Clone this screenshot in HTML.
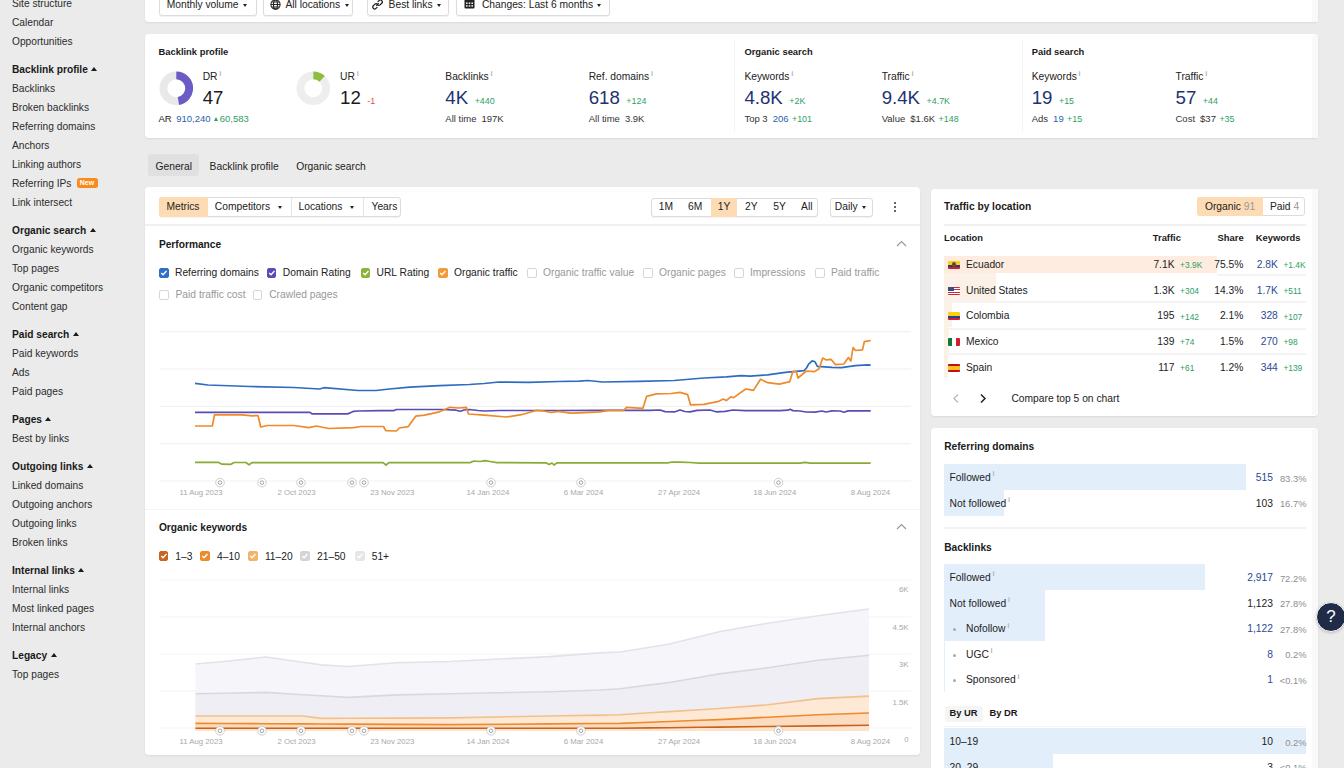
<!DOCTYPE html>
<html><head><meta charset="utf-8"><title>Overview</title><style>
*{box-sizing:border-box;margin:0;padding:0}
html,body{width:1344px;height:768px;overflow:hidden}
body{background:#ebebeb;font-family:"Liberation Sans",Arial,Helvetica,sans-serif;color:#222;position:relative;-webkit-font-smoothing:antialiased}
.t{position:absolute;white-space:nowrap}
.r{position:absolute}
.tri{display:inline-block;width:0;height:0;border-left:3px solid transparent;border-right:3px solid transparent;border-bottom:4px solid #1a1a1a;margin-left:3.4px;vertical-align:1.8px}
.caret{position:absolute;width:0;height:0;border-left:2.7px solid transparent;border-right:2.7px solid transparent;border-top:3.3px solid #222}
.newb{position:absolute;width:21px;height:10.5px;background:#f98b1c;border-radius:2.5px;color:#fff;font-size:7px;line-height:10.5px;text-align:center;font-weight:700}
.sup{font-size:7.5px;color:#b4b4b4;position:relative;top:-4.5px;margin-left:1.8px;font-weight:700;line-height:0}
.dl{font-size:8.9px;margin-left:6.5px;vertical-align:0}
.sv{margin-left:2.4px}
.sd{font-size:8.9px;margin-left:0.8px}
.up{display:inline-block;width:0;height:0;border-left:2.8px solid transparent;border-right:2.8px solid transparent;border-bottom:4px solid #2f9e62;margin-right:1.5px;vertical-align:1px}
.info{position:absolute}
.cb{position:absolute;border:1px solid #d6d6d6;border-radius:2px;background:#fff}
.flag{position:absolute;width:12px;height:8px;border-radius:1px;overflow:hidden}
.fl-ec{background:linear-gradient(#f7d117 0 50%,#243c8c 50% 75%,#d0202c 75%)}
.fl-ec:before{content:"";position:absolute;left:4px;top:1.5px;width:4px;height:4.5px;border-radius:50% 50% 40% 40%;background:#6b4a2a}
.fl-us{background:repeating-linear-gradient(#c8283a 0 1.15px,#fff 1.15px 2.3px)}
.fl-us:before{content:"";position:absolute;left:0;top:0;width:5.5px;height:4.6px;background:#3b4a87}
.fl-co{background:linear-gradient(#f7d117 0 50%,#223e99 50% 75%,#d0202c 75%)}
.fl-mx{background:linear-gradient(90deg,#0b7a3e 0 33%,#fff 33% 67%,#cd1f2d 67%)}
.fl-es{background:linear-gradient(#c60b1e 0 25%,#f6c41b 25% 75%,#c60b1e 75%)}
.help{position:absolute;left:1316px;top:602px;width:30px;height:30px;border-radius:50%;background:#1f2b47;border:1.5px solid #fff;color:#fff;font-size:17px;line-height:27px;text-align:center;font-weight:400;box-shadow:0 1px 3px rgba(0,0,0,.2)}
</style></head>
<body>
<div class="t " style="top:-1.43px;font-size:10.2px;line-height:10.2px;color:#2b2b2b;left:12.00px;">Site structure</div>
<div class="t " style="top:17.57px;font-size:10.2px;line-height:10.2px;color:#2b2b2b;left:12.00px;">Calendar</div>
<div class="t " style="top:36.57px;font-size:10.2px;line-height:10.2px;color:#2b2b2b;left:12.00px;">Opportunities</div>
<div class="t " style="top:64.57px;font-size:10.2px;line-height:10.2px;color:#1a1a1a;font-weight:700;left:12.00px;">Backlink profile<span class="tri"></span></div>
<div class="t " style="top:83.57px;font-size:10.2px;line-height:10.2px;color:#2b2b2b;left:12.00px;">Backlinks</div>
<div class="t " style="top:102.57px;font-size:10.2px;line-height:10.2px;color:#2b2b2b;left:12.00px;">Broken backlinks</div>
<div class="t " style="top:121.57px;font-size:10.2px;line-height:10.2px;color:#2b2b2b;left:12.00px;">Referring domains</div>
<div class="t " style="top:140.57px;font-size:10.2px;line-height:10.2px;color:#2b2b2b;left:12.00px;">Anchors</div>
<div class="t " style="top:159.57px;font-size:10.2px;line-height:10.2px;color:#2b2b2b;left:12.00px;">Linking authors</div>
<div class="t " style="top:178.57px;font-size:10.2px;line-height:10.2px;color:#2b2b2b;left:12.00px;">Referring IPs</div>
<div class="newb" style="left:76.5px;top:177.9px">New</div>
<div class="t " style="top:197.57px;font-size:10.2px;line-height:10.2px;color:#2b2b2b;left:12.00px;">Link intersect</div>
<div class="t " style="top:225.57px;font-size:10.2px;line-height:10.2px;color:#1a1a1a;font-weight:700;left:12.00px;">Organic search<span class="tri"></span></div>
<div class="t " style="top:244.57px;font-size:10.2px;line-height:10.2px;color:#2b2b2b;left:12.00px;">Organic keywords</div>
<div class="t " style="top:263.57px;font-size:10.2px;line-height:10.2px;color:#2b2b2b;left:12.00px;">Top pages</div>
<div class="t " style="top:282.57px;font-size:10.2px;line-height:10.2px;color:#2b2b2b;left:12.00px;">Organic competitors</div>
<div class="t " style="top:301.57px;font-size:10.2px;line-height:10.2px;color:#2b2b2b;left:12.00px;">Content gap</div>
<div class="t " style="top:329.57px;font-size:10.2px;line-height:10.2px;color:#1a1a1a;font-weight:700;left:12.00px;">Paid search<span class="tri"></span></div>
<div class="t " style="top:348.57px;font-size:10.2px;line-height:10.2px;color:#2b2b2b;left:12.00px;">Paid keywords</div>
<div class="t " style="top:367.57px;font-size:10.2px;line-height:10.2px;color:#2b2b2b;left:12.00px;">Ads</div>
<div class="t " style="top:386.57px;font-size:10.2px;line-height:10.2px;color:#2b2b2b;left:12.00px;">Paid pages</div>
<div class="t " style="top:414.57px;font-size:10.2px;line-height:10.2px;color:#1a1a1a;font-weight:700;left:12.00px;">Pages<span class="tri"></span></div>
<div class="t " style="top:433.57px;font-size:10.2px;line-height:10.2px;color:#2b2b2b;left:12.00px;">Best by links</div>
<div class="t " style="top:461.57px;font-size:10.2px;line-height:10.2px;color:#1a1a1a;font-weight:700;left:12.00px;">Outgoing links<span class="tri"></span></div>
<div class="t " style="top:480.57px;font-size:10.2px;line-height:10.2px;color:#2b2b2b;left:12.00px;">Linked domains</div>
<div class="t " style="top:499.57px;font-size:10.2px;line-height:10.2px;color:#2b2b2b;left:12.00px;">Outgoing anchors</div>
<div class="t " style="top:518.57px;font-size:10.2px;line-height:10.2px;color:#2b2b2b;left:12.00px;">Outgoing links</div>
<div class="t " style="top:537.57px;font-size:10.2px;line-height:10.2px;color:#2b2b2b;left:12.00px;">Broken links</div>
<div class="t " style="top:565.57px;font-size:10.2px;line-height:10.2px;color:#1a1a1a;font-weight:700;left:12.00px;">Internal links<span class="tri"></span></div>
<div class="t " style="top:584.57px;font-size:10.2px;line-height:10.2px;color:#2b2b2b;left:12.00px;">Internal links</div>
<div class="t " style="top:603.57px;font-size:10.2px;line-height:10.2px;color:#2b2b2b;left:12.00px;">Most linked pages</div>
<div class="t " style="top:622.57px;font-size:10.2px;line-height:10.2px;color:#2b2b2b;left:12.00px;">Internal anchors</div>
<div class="t " style="top:650.57px;font-size:10.2px;line-height:10.2px;color:#1a1a1a;font-weight:700;left:12.00px;">Legacy<span class="tri"></span></div>
<div class="t " style="top:669.57px;font-size:10.2px;line-height:10.2px;color:#2b2b2b;left:12.00px;">Top pages</div>
<div class="r" style="left:145px;top:-10px;width:1173px;height:32px;background:#fff;border-radius:0 0 4px 4px;box-shadow:0 1px 2px rgba(0,0,0,.08);"></div>
<div class="r" style="left:158.5px;top:-6px;width:98.0px;height:21.5px;background:#fff;border:1px solid #dcdcdc;border-radius:3px;box-shadow:0 1px 1px rgba(0,0,0,.06);"></div>
<div class="t " style="top:-0.29px;font-size:10.27px;line-height:10.27px;color:#222;left:166.70px;">Monthly volume</div>
<div class="caret" style="left:243px;top:3.5px"></div>
<div class="r" style="left:262.5px;top:-6px;width:90.19999999999999px;height:21.5px;background:#fff;border:1px solid #dcdcdc;border-radius:3px;box-shadow:0 1px 1px rgba(0,0,0,.06);"></div>
<svg class="r" style="left:269.5px;top:-1.5px" width="11" height="11" viewBox="0 0 11 11"><g fill="none" stroke="#222" stroke-width="1.1"><circle cx="5.5" cy="5.5" r="4.6"/><ellipse cx="5.5" cy="5.5" rx="2" ry="4.6"/><path d="M1 5.5h9M1.8 3h7.4M1.8 8h7.4"/></g></svg>
<div class="t " style="top:-0.29px;font-size:10.27px;line-height:10.27px;color:#222;left:285.40px;">All locations</div>
<div class="caret" style="left:344.5px;top:3.5px"></div>
<div class="r" style="left:366.8px;top:-6px;width:82.59999999999997px;height:21.5px;background:#fff;border:1px solid #dcdcdc;border-radius:3px;box-shadow:0 1px 1px rgba(0,0,0,.06);"></div>
<svg class="r" style="left:371.5px;top:-1.5px" width="11" height="11" viewBox="0 0 11 11"><g fill="none" stroke="#222" stroke-width="1.3" stroke-linecap="round"><path d="M4.6 6.4l1.8-1.8"/><path d="M6 2.6l1-1a1.9 1.9 0 0 1 2.7 2.7l-1.6 1.6a1.9 1.9 0 0 1-2.7 0"/><path d="M5 8.4l-1 1a1.9 1.9 0 0 1-2.7-2.7l1.6-1.6a1.9 1.9 0 0 1 2.7 0"/></g></svg>
<div class="t " style="top:-0.29px;font-size:10.27px;line-height:10.27px;color:#222;left:388.60px;">Best links</div>
<div class="caret" style="left:436.5px;top:3.5px"></div>
<div class="r" style="left:455.7px;top:-6px;width:154.3px;height:21.5px;background:#fff;border:1px solid #dcdcdc;border-radius:3px;box-shadow:0 1px 1px rgba(0,0,0,.06);"></div>
<svg class="r" style="left:464px;top:-2px" width="11" height="11" viewBox="0 0 11 11"><rect x="0.5" y="1.5" width="10" height="9" rx="1" fill="#222"/><g fill="#fff"><rect x="2" y="4.5" width="1.6" height="1.4"/><rect x="4.7" y="4.5" width="1.6" height="1.4"/><rect x="7.4" y="4.5" width="1.6" height="1.4"/><rect x="2" y="7.2" width="1.6" height="1.4"/><rect x="4.7" y="7.2" width="1.6" height="1.4"/><rect x="7.4" y="7.2" width="1.6" height="1.4"/></g></svg>
<div class="t " style="top:-0.29px;font-size:10.27px;line-height:10.27px;color:#222;left:481.90px;">Changes: Last 6 months</div>
<div class="caret" style="left:597px;top:3.5px"></div>
<div class="r" style="left:145px;top:34px;width:1173px;height:104px;background:#fff;border-radius:4px;box-shadow:0 1px 2px rgba(0,0,0,.08);"></div>
<div class="r" style="left:734px;top:40px;width:1px;height:92px;background:#f3f3f3;"></div>
<div class="r" style="left:1022px;top:40px;width:1px;height:92px;background:#f3f3f3;"></div>
<div class="t " style="top:47.04px;font-size:9.4px;line-height:9.4px;color:#1a1a1a;font-weight:700;left:158.50px;">Backlink profile</div>
<div class="t " style="top:47.04px;font-size:9.4px;line-height:9.4px;color:#1a1a1a;font-weight:700;left:744.40px;">Organic search</div>
<div class="t " style="top:47.04px;font-size:9.4px;line-height:9.4px;color:#1a1a1a;font-weight:700;left:1031.70px;">Paid search</div>
<svg class="r" style="left:158.5px;top:71.3px" width="34.6" height="34.6" viewBox="0 0 36 36"><circle cx="18" cy="18" r="13.4" fill="none" stroke="#e9e9e9" stroke-width="8.2"/><circle cx="18" cy="18" r="13.4" fill="none" stroke="#6a5cc4" stroke-width="8.2" stroke-dasharray="39.57 84.2" transform="rotate(-90 18 18)"/></svg>
<div class="t " style="top:72.11px;font-size:10.27px;line-height:10.27px;color:#222;left:202.70px;">DR<span class="sup">i</span></div>
<div class="t" style="left:202.7px;top:88.80px;font-size:18.67px;line-height:18.67px;color:#1a1a1a">47<span class="dl" style="color:#2f9e62"></span></div>
<div class="t" style="left:158.4px;top:114.46px;font-size:9.5px;line-height:9.5px;color:#222">AR <span style="color:#2c5fa8;margin-left:2px">910,240</span> <span style="color:#2f9e62;margin-left:1px"><span class="up"></span>60,583</span></div>
<svg class="r" style="left:295.5px;top:71.3px" width="34.6" height="34.6" viewBox="0 0 36 36"><circle cx="18" cy="18" r="13.4" fill="none" stroke="#eeeeee" stroke-width="8.2"/><circle cx="18" cy="18" r="13.4" fill="none" stroke="#8cbf3f" stroke-width="8.2" stroke-dasharray="10.1 84.2" transform="rotate(-90 18 18)"/></svg>
<div class="t " style="top:72.11px;font-size:10.27px;line-height:10.27px;color:#222;left:340.00px;">UR<span class="sup">i</span></div>
<div class="t" style="left:340px;top:88.80px;font-size:18.67px;line-height:18.67px;color:#1a1a1a">12<span class="dl" style="color:#d9534f">-1</span></div>
<div class="t " style="top:72.11px;font-size:10.27px;line-height:10.27px;color:#222;left:445.30px;">Backlinks<span class="sup">i</span></div>
<div class="t" style="left:445.3px;top:88.80px;font-size:18.67px;line-height:18.67px;color:#1d3372">4K<span class="dl" style="color:#2f9e62">+440</span></div>
<div class="t" style="left:445.3px;top:114.46px;font-size:9.5px;line-height:9.5px;color:#333">All time <span class="sv">197K</span></div>
<div class="t " style="top:72.11px;font-size:10.27px;line-height:10.27px;color:#222;left:588.70px;">Ref. domains<span class="sup">i</span></div>
<div class="t" style="left:588.7px;top:88.80px;font-size:18.67px;line-height:18.67px;color:#1d3372">618<span class="dl" style="color:#2f9e62">+124</span></div>
<div class="t" style="left:588.7px;top:114.46px;font-size:9.5px;line-height:9.5px;color:#333">All time <span class="sv">3.9K</span></div>
<div class="t " style="top:72.11px;font-size:10.27px;line-height:10.27px;color:#222;left:744.40px;">Keywords<span class="sup">i</span></div>
<div class="t" style="left:744.4px;top:88.80px;font-size:18.67px;line-height:18.67px;color:#1d3372">4.8K<span class="dl" style="color:#2f9e62">+2K</span></div>
<div class="t" style="left:744.4px;top:114.46px;font-size:9.5px;line-height:9.5px;color:#333">Top 3 <span class="sv" style="color:#2c5fa8">206</span> <span class="sd" style="color:#2f9e62">+101</span></div>
<div class="t " style="top:72.11px;font-size:10.27px;line-height:10.27px;color:#222;left:881.70px;">Traffic<span class="sup">i</span></div>
<div class="t" style="left:881.7px;top:88.80px;font-size:18.67px;line-height:18.67px;color:#1d3372">9.4K<span class="dl" style="color:#2f9e62">+4.7K</span></div>
<div class="t" style="left:881.7px;top:114.46px;font-size:9.5px;line-height:9.5px;color:#333">Value <span class="sv">$1.6K</span> <span class="sd" style="color:#2f9e62">+148</span></div>
<div class="t " style="top:72.11px;font-size:10.27px;line-height:10.27px;color:#222;left:1031.70px;">Keywords<span class="sup">i</span></div>
<div class="t" style="left:1031.7px;top:88.80px;font-size:18.67px;line-height:18.67px;color:#1d3372">19<span class="dl" style="color:#2f9e62">+15</span></div>
<div class="t" style="left:1031.7px;top:114.46px;font-size:9.5px;line-height:9.5px;color:#333">Ads <span class="sv" style="color:#2c5fa8">19</span> <span class="sd" style="color:#2f9e62">+15</span></div>
<div class="t " style="top:72.11px;font-size:10.27px;line-height:10.27px;color:#222;left:1175.50px;">Traffic<span class="sup">i</span></div>
<div class="t" style="left:1175.5px;top:88.80px;font-size:18.67px;line-height:18.67px;color:#1d3372">57<span class="dl" style="color:#2f9e62">+44</span></div>
<div class="t" style="left:1175.5px;top:114.46px;font-size:9.5px;line-height:9.5px;color:#333">Cost <span class="sv">$37</span> <span class="sd" style="color:#2f9e62">+35</span></div>
<div class="r" style="left:147.7px;top:153.8px;width:51.8px;height:22px;background:#e0e0e0;border-radius:3px;"></div>
<div class="t " style="top:161.51px;font-size:10.27px;line-height:10.27px;color:#222;left:155.50px;">General</div>
<div class="t " style="top:161.51px;font-size:10.27px;line-height:10.27px;color:#222;left:209.60px;">Backlink profile</div>
<div class="t " style="top:161.51px;font-size:10.27px;line-height:10.27px;color:#222;left:296.20px;">Organic search</div>
<div class="r" style="left:145px;top:187px;width:775px;height:568px;background:#fff;border-radius:4px;box-shadow:0 1px 2px rgba(0,0,0,.08);"></div>
<div class="r" style="left:159.3px;top:197px;width:242.2px;height:19.5px;background:#fff;border:1px solid #dcdcdc;border-radius:3px;box-shadow:0 1px 1px rgba(0,0,0,.05);"></div>
<div class="r" style="left:159.3px;top:197px;width:48.7px;height:19.5px;background:#fddcb5;border-radius:3px 0 0 3px;"></div>
<div class="r" style="left:290.8px;top:198px;width:1px;height:17.5px;background:#e4e4e4;"></div>
<div class="r" style="left:362.8px;top:198px;width:1px;height:17.5px;background:#e4e4e4;"></div>
<div class="t " style="top:202.01px;font-size:10.27px;line-height:10.27px;color:#222;left:166.40px;">Metrics</div>
<div class="t " style="top:202.01px;font-size:10.27px;line-height:10.27px;color:#222;left:214.80px;">Competitors</div>
<div class="caret" style="left:277.5px;top:205.5px"></div>
<div class="t " style="top:202.01px;font-size:10.27px;line-height:10.27px;color:#222;left:298.50px;">Locations</div>
<div class="caret" style="left:349.5px;top:205.5px"></div>
<div class="t " style="top:202.01px;font-size:10.27px;line-height:10.27px;color:#222;left:371.50px;">Years</div>
<div class="r" style="left:651px;top:197.5px;width:166.7px;height:19px;background:#fff;border:1px solid #dcdcdc;border-radius:3px;box-shadow:0 1px 1px rgba(0,0,0,.05);"></div>
<div class="r" style="left:710.5px;top:197.5px;width:26.5px;height:19px;background:#fddcb5;"></div>
<div class="t " style="top:202.01px;font-size:10.27px;line-height:10.27px;color:#222;left:616.00px;width:100px;text-align:center;">1M</div>
<div class="t " style="top:202.01px;font-size:10.27px;line-height:10.27px;color:#222;left:645.20px;width:100px;text-align:center;">6M</div>
<div class="t " style="top:202.01px;font-size:10.27px;line-height:10.27px;color:#222;left:674.00px;width:100px;text-align:center;">1Y</div>
<div class="t " style="top:202.01px;font-size:10.27px;line-height:10.27px;color:#222;left:701.30px;width:100px;text-align:center;">2Y</div>
<div class="t " style="top:202.01px;font-size:10.27px;line-height:10.27px;color:#222;left:729.50px;width:100px;text-align:center;">5Y</div>
<div class="t " style="top:202.01px;font-size:10.27px;line-height:10.27px;color:#222;left:756.80px;width:100px;text-align:center;">All</div>
<div class="r" style="left:829.7px;top:197.5px;width:43.3px;height:19px;background:#fff;border:1px solid #dcdcdc;border-radius:3px;box-shadow:0 1px 1px rgba(0,0,0,.05);"></div>
<div class="t " style="top:202.01px;font-size:10.27px;line-height:10.27px;color:#222;left:834.80px;">Daily</div>
<div class="caret" style="left:862px;top:205.5px"></div>
<div class="r" style="left:893.8px;top:201.8px;width:2.4px;height:2.4px;background:#333;border-radius:50%;"></div>
<div class="r" style="left:893.8px;top:205.8px;width:2.4px;height:2.4px;background:#333;border-radius:50%;"></div>
<div class="r" style="left:893.8px;top:209.8px;width:2.4px;height:2.4px;background:#333;border-radius:50%;"></div>
<div class="r" style="left:145px;top:224px;width:775px;height:1.5px;background:#f0f0f0;"></div>
<div class="t " style="top:239.57px;font-size:10.2px;line-height:10.2px;color:#1a1a1a;font-weight:700;left:158.90px;">Performance</div>
<svg class="r" style="left:896px;top:240px" width="11" height="7" viewBox="0 0 11 7"><path d="M1 6l4.5-4.5L10 6" fill="none" stroke="#999" stroke-width="1.2"/></svg>
<div class="cb" style="left:159px;top:268px;width:9.6px;height:9.6px;background:#2f6fc9;border-color:#2f6fc9"><svg width="9.6" height="9.6" viewBox="0 0 10 10" style="position:absolute;left:-1px;top:-1px"><path d="M2.3 5.2l1.9 1.9 3.6-4" fill="none" stroke="#fff" stroke-width="1.4"/></svg></div>
<div class="t " style="top:268.01px;font-size:10.27px;line-height:10.27px;color:#222;left:175.00px;">Referring domains</div>
<div class="cb" style="left:266.8px;top:268px;width:9.6px;height:9.6px;background:#5b4bb7;border-color:#5b4bb7"><svg width="9.6" height="9.6" viewBox="0 0 10 10" style="position:absolute;left:-1px;top:-1px"><path d="M2.3 5.2l1.9 1.9 3.6-4" fill="none" stroke="#fff" stroke-width="1.4"/></svg></div>
<div class="t " style="top:268.01px;font-size:10.27px;line-height:10.27px;color:#222;left:282.80px;">Domain Rating</div>
<div class="cb" style="left:360.5px;top:268px;width:9.6px;height:9.6px;background:#8db33a;border-color:#8db33a"><svg width="9.6" height="9.6" viewBox="0 0 10 10" style="position:absolute;left:-1px;top:-1px"><path d="M2.3 5.2l1.9 1.9 3.6-4" fill="none" stroke="#fff" stroke-width="1.4"/></svg></div>
<div class="t " style="top:268.01px;font-size:10.27px;line-height:10.27px;color:#222;left:376.50px;">URL Rating</div>
<div class="cb" style="left:438px;top:268px;width:9.6px;height:9.6px;background:#f39a38;border-color:#f39a38"><svg width="9.6" height="9.6" viewBox="0 0 10 10" style="position:absolute;left:-1px;top:-1px"><path d="M2.3 5.2l1.9 1.9 3.6-4" fill="none" stroke="#fff" stroke-width="1.4"/></svg></div>
<div class="t " style="top:268.01px;font-size:10.27px;line-height:10.27px;color:#222;left:454.00px;">Organic traffic</div>
<div class="cb" style="left:527px;top:268px;width:9.6px;height:9.6px;"></div>
<div class="t " style="top:268.01px;font-size:10.27px;line-height:10.27px;color:#999;left:543.00px;">Organic traffic value</div>
<div class="cb" style="left:643px;top:268px;width:9.6px;height:9.6px;"></div>
<div class="t " style="top:268.01px;font-size:10.27px;line-height:10.27px;color:#999;left:659.00px;">Organic pages</div>
<div class="cb" style="left:734px;top:268px;width:9.6px;height:9.6px;"></div>
<div class="t " style="top:268.01px;font-size:10.27px;line-height:10.27px;color:#999;left:750.00px;">Impressions</div>
<div class="cb" style="left:815px;top:268px;width:9.6px;height:9.6px;"></div>
<div class="t " style="top:268.01px;font-size:10.27px;line-height:10.27px;color:#999;left:831.00px;">Paid traffic</div>
<div class="cb" style="left:159px;top:290px;width:9.6px;height:9.6px;"></div>
<div class="t " style="top:290.11px;font-size:10.27px;line-height:10.27px;color:#999;left:175.50px;">Paid traffic cost</div>
<div class="cb" style="left:252.7px;top:290px;width:9.6px;height:9.6px;"></div>
<div class="t " style="top:290.11px;font-size:10.27px;line-height:10.27px;color:#999;left:269.20px;">Crawled pages</div>
<svg class="r" style="left:0;top:0" width="1344" height="768" viewBox="0 0 1344 768"><line x1="159.5" x2="911" y1="331.6" y2="331.6" stroke="#f2f2f2" stroke-width="1.2"/><line x1="159.5" x2="911" y1="369" y2="369" stroke="#f2f2f2" stroke-width="1.2"/><line x1="159.5" x2="911" y1="406.3" y2="406.3" stroke="#f2f2f2" stroke-width="1.2"/><line x1="159.5" x2="911" y1="443.6" y2="443.6" stroke="#f2f2f2" stroke-width="1.2"/><line x1="159.5" x2="911" y1="481" y2="481" stroke="#f2f2f2" stroke-width="1.2"/>
<polyline points="195.0,462.3 218.0,462.3 222.0,464.2 231.0,464.3 234.0,462.5 246.0,462.5 249.0,464.8 252.0,462.6 383.0,462.6 386.0,465.0 389.0,462.6 470.0,462.6 474.0,461.0 480.0,461.5 485.0,460.7 490.0,461.5 497.0,462.6 546.0,462.8 549.0,464.5 552.0,463.0 554.0,465.0 557.0,462.9 668.0,462.9 672.0,462.0 680.0,462.2 690.0,462.5 700.0,463.2 760.0,463.1 800.0,463.1 805.0,462.4 810.0,463.2 870.7,463.2" fill="none" stroke="#8aaa35" stroke-width="1.7" stroke-linejoin="round"/>
<polyline points="195.0,412.4 310.0,412.4 312.0,413.9 347.7,413.9 351.0,412.5 353.7,411.3 358.0,411.0 380.0,410.7 393.4,410.7 396.4,409.5 442.5,409.5 456.0,410.2 460.4,411.3 464.0,410.0 469.3,409.5 478.0,410.5 484.2,411.0 500.0,410.5 560.0,410.5 600.0,410.3 650.0,410.3 660.0,410.0 665.0,411.6 675.0,411.8 680.0,410.0 685.0,411.5 690.0,411.8 697.0,410.3 710.0,410.0 716.0,411.8 725.0,411.3 733.0,410.0 745.0,410.6 780.0,410.6 788.0,410.2 790.0,409.3 793.0,410.6 800.0,411.0 806.0,412.0 815.0,412.2 822.0,411.0 826.0,412.0 832.0,410.9 840.0,411.0 844.0,412.3 848.0,410.9 870.7,410.9" fill="none" stroke="#5a4cb5" stroke-width="1.7" stroke-linejoin="round"/>
<polyline points="195.0,383.4 208.0,385.0 249.5,386.5 294.0,387.5 319.5,389.0 324.0,387.7 358.0,390.5 376.0,390.5 389.4,389.0 409.8,387.2 439.5,385.7 469.3,384.5 484.2,383.5 499.0,382.0 528.8,382.4 558.6,381.5 579.4,381.2 587.9,380.5 602.7,382.0 638.5,381.3 674.2,380.5 703.9,378.0 726.3,376.8 741.1,375.6 750.0,376.1 767.6,374.8 785.2,372.4 804.0,370.6 806.5,368.0 808.6,364.2 812.1,360.9 815.0,361.8 817.4,366.3 832.0,367.3 841.4,367.7 855.5,365.7 867.2,364.9 870.7,365.2" fill="none" stroke="#2f6cc0" stroke-width="1.7" stroke-linejoin="round"/>
<polyline points="195.0,426.0 212.3,426.0 214.5,414.8 242.0,414.8 252.5,415.8 258.0,415.5 260.7,427.0 267.4,425.5 294.0,425.5 309.0,427.7 316.5,426.0 328.4,428.5 353.7,427.7 361.0,426.5 383.5,426.5 385.7,430.7 396.4,431.0 399.3,428.0 408.3,426.6 415.7,416.2 424.6,415.2 439.5,411.8 450.0,407.3 458.9,408.0 466.3,407.3 468.5,414.0 484.2,415.2 506.5,417.0 521.4,414.7 531.8,411.8 536.3,410.3 543.7,411.0 551.0,412.5 558.6,411.3 570.5,413.2 579.4,412.8 599.8,411.8 608.7,410.3 623.6,410.3 626.5,407.3 642.9,408.3 646.6,396.4 656.3,393.9 671.2,393.5 680.1,392.4 687.6,394.6 690.5,404.8 703.9,404.3 718.8,401.3 723.3,399.1 726.3,400.6 730.7,396.9 733.7,397.6 745.6,389.0 748.6,389.4 753.5,390.4 760.5,379.2 767.6,382.7 779.3,384.1 789.8,381.6 792.8,371.6 796.3,371.6 798.0,378.0 806.3,371.0 814.5,371.6 819.1,368.7 822.7,358.1 826.2,359.9 830.9,359.3 835.5,364.6 843.8,364.0 848.4,357.5 850.8,361.1 853.1,347.6 855.5,350.5 862.5,349.9 864.3,341.7 867.2,341.1 870.7,340.5" fill="none" stroke="#ef8a2a" stroke-width="1.7" stroke-linejoin="round"/>
</svg>
<svg class="r" style="left:0;top:0" width="1344" height="768"><circle cx="220" cy="482.6" r="4.3" fill="#fff" stroke="#cfcfcf" stroke-width="1"/><circle cx="220" cy="482.6" r="1.8" fill="none" stroke="#9a9a9a" stroke-width="0.9"/><circle cx="262" cy="482.6" r="4.3" fill="#fff" stroke="#cfcfcf" stroke-width="1"/><circle cx="262" cy="482.6" r="1.8" fill="none" stroke="#9a9a9a" stroke-width="0.9"/><circle cx="301" cy="482.6" r="4.3" fill="#fff" stroke="#cfcfcf" stroke-width="1"/><circle cx="301" cy="482.6" r="1.8" fill="none" stroke="#9a9a9a" stroke-width="0.9"/><circle cx="352" cy="482.6" r="4.3" fill="#fff" stroke="#cfcfcf" stroke-width="1"/><circle cx="352" cy="482.6" r="1.8" fill="none" stroke="#9a9a9a" stroke-width="0.9"/><circle cx="364" cy="482.6" r="4.3" fill="#fff" stroke="#cfcfcf" stroke-width="1"/><circle cx="364" cy="482.6" r="1.8" fill="none" stroke="#9a9a9a" stroke-width="0.9"/><circle cx="491" cy="482.6" r="4.3" fill="#fff" stroke="#cfcfcf" stroke-width="1"/><circle cx="491" cy="482.6" r="1.8" fill="none" stroke="#9a9a9a" stroke-width="0.9"/><circle cx="581" cy="482.6" r="4.3" fill="#fff" stroke="#cfcfcf" stroke-width="1"/><circle cx="581" cy="482.6" r="1.8" fill="none" stroke="#9a9a9a" stroke-width="0.9"/><circle cx="778.5" cy="482.6" r="4.3" fill="#fff" stroke="#cfcfcf" stroke-width="1"/><circle cx="778.5" cy="482.6" r="1.8" fill="none" stroke="#9a9a9a" stroke-width="0.9"/></svg>
<div class="t " style="top:488.60px;font-size:7.8px;line-height:7.8px;color:#a8a8a8;left:151.00px;width:100px;text-align:center;">11 Aug 2023</div>
<div class="t " style="top:488.60px;font-size:7.8px;line-height:7.8px;color:#a8a8a8;left:246.63px;width:100px;text-align:center;">2 Oct 2023</div>
<div class="t " style="top:488.60px;font-size:7.8px;line-height:7.8px;color:#a8a8a8;left:342.26px;width:100px;text-align:center;">23 Nov 2023</div>
<div class="t " style="top:488.60px;font-size:7.8px;line-height:7.8px;color:#a8a8a8;left:437.89px;width:100px;text-align:center;">14 Jan 2024</div>
<div class="t " style="top:488.60px;font-size:7.8px;line-height:7.8px;color:#a8a8a8;left:533.52px;width:100px;text-align:center;">6 Mar 2024</div>
<div class="t " style="top:488.60px;font-size:7.8px;line-height:7.8px;color:#a8a8a8;left:629.15px;width:100px;text-align:center;">27 Apr 2024</div>
<div class="t " style="top:488.60px;font-size:7.8px;line-height:7.8px;color:#a8a8a8;left:724.78px;width:100px;text-align:center;">18 Jun 2024</div>
<div class="t " style="top:488.60px;font-size:7.8px;line-height:7.8px;color:#a8a8a8;left:820.41px;width:100px;text-align:center;">8 Aug 2024</div>
<div class="r" style="left:145px;top:508.5px;width:775px;height:1.5px;background:#f4f4f4;"></div>
<div class="t " style="top:522.67px;font-size:10.2px;line-height:10.2px;color:#1a1a1a;font-weight:700;left:158.90px;">Organic keywords</div>
<svg class="r" style="left:896px;top:523px" width="11" height="7" viewBox="0 0 11 7"><path d="M1 6l4.5-4.5L10 6" fill="none" stroke="#999" stroke-width="1.2"/></svg>
<div class="cb" style="left:158.6px;top:551px;width:9.6px;height:9.6px;background:#c9651f;border-color:#c9651f"><svg width="9.6" height="9.6" viewBox="0 0 10 10" style="position:absolute;left:-1px;top:-1px"><path d="M2.3 5.2l1.9 1.9 3.6-4" fill="none" stroke="#fff" stroke-width="1.4"/></svg></div>
<div class="t " style="top:551.51px;font-size:10.27px;line-height:10.27px;color:#222;left:175.30px;">1–3</div>
<div class="cb" style="left:200.3px;top:551px;width:9.6px;height:9.6px;background:#ef8a2a;border-color:#ef8a2a"><svg width="9.6" height="9.6" viewBox="0 0 10 10" style="position:absolute;left:-1px;top:-1px"><path d="M2.3 5.2l1.9 1.9 3.6-4" fill="none" stroke="#fff" stroke-width="1.4"/></svg></div>
<div class="t " style="top:551.51px;font-size:10.27px;line-height:10.27px;color:#222;left:217.00px;">4–10</div>
<div class="cb" style="left:248.2px;top:551px;width:9.6px;height:9.6px;background:#f6b26b;border-color:#f6b26b"><svg width="9.6" height="9.6" viewBox="0 0 10 10" style="position:absolute;left:-1px;top:-1px"><path d="M2.3 5.2l1.9 1.9 3.6-4" fill="none" stroke="#fff" stroke-width="1.4"/></svg></div>
<div class="t " style="top:551.51px;font-size:10.27px;line-height:10.27px;color:#222;left:264.90px;">11–20</div>
<div class="cb" style="left:300.3px;top:551px;width:9.6px;height:9.6px;background:#d5d5d5;border-color:#d5d5d5"><svg width="9.6" height="9.6" viewBox="0 0 10 10" style="position:absolute;left:-1px;top:-1px"><path d="M2.3 5.2l1.9 1.9 3.6-4" fill="none" stroke="#fff" stroke-width="1.4"/></svg></div>
<div class="t " style="top:551.51px;font-size:10.27px;line-height:10.27px;color:#222;left:317.00px;">21–50</div>
<div class="cb" style="left:355px;top:551px;width:9.6px;height:9.6px;background:#e6e6e6;border-color:#e6e6e6"><svg width="9.6" height="9.6" viewBox="0 0 10 10" style="position:absolute;left:-1px;top:-1px"><path d="M2.3 5.2l1.9 1.9 3.6-4" fill="none" stroke="#fff" stroke-width="1.4"/></svg></div>
<div class="t " style="top:551.51px;font-size:10.27px;line-height:10.27px;color:#222;left:371.70px;">51+</div>
<svg class="r" style="left:0;top:0" width="1344" height="768"><line x1="159.5" x2="911" y1="580" y2="580" stroke="#f4f4f4" stroke-width="1.2"/><line x1="159.5" x2="911" y1="617" y2="617" stroke="#f4f4f4" stroke-width="1.2"/><line x1="159.5" x2="911" y1="654" y2="654" stroke="#f4f4f4" stroke-width="1.2"/><line x1="159.5" x2="911" y1="691" y2="691" stroke="#f4f4f4" stroke-width="1.2"/><line x1="159.5" x2="911" y1="728" y2="728" stroke="#f4f4f4" stroke-width="1.2"/>
<path d="M195.5,664.0 L224.0,661.5 L266.0,657.0 L303.0,662.3 L321.0,664.9 L348.0,666.5 L397.0,662.8 L450.0,661.5 L550.0,656.6 L600.0,652.9 L620.0,652.0 L650.0,647.2 L669.5,644.0 L700.0,636.5 L719.0,631.8 L768.0,623.2 L818.0,615.8 L869.0,609.0 L869,731 L195.5,731 Z" fill="#f6f6fa"/><polyline points="195.5,664.0 224.0,661.5 266.0,657.0 303.0,662.3 321.0,664.9 348.0,666.5 397.0,662.8 450.0,661.5 550.0,656.6 600.0,652.9 620.0,652.0 650.0,647.2 669.5,644.0 700.0,636.5 719.0,631.8 768.0,623.2 818.0,615.8 869.0,609.0" fill="none" stroke="#e2e2ea" stroke-width="1.6"/><path d="M195.5,693.7 L224.0,693.2 L266.0,692.4 L303.0,694.7 L321.0,695.8 L348.0,697.4 L397.0,694.9 L450.0,693.7 L550.0,691.7 L600.0,690.0 L620.0,688.7 L650.0,684.9 L669.5,682.5 L700.0,677.2 L719.0,673.9 L768.0,667.7 L818.0,660.3 L869.0,655.3 L869,731 L195.5,731 Z" fill="#eeeef4"/><polyline points="195.5,693.7 224.0,693.2 266.0,692.4 303.0,694.7 321.0,695.8 348.0,697.4 397.0,694.9 450.0,693.7 550.0,691.7 600.0,690.0 620.0,688.7 650.0,684.9 669.5,682.5 700.0,677.2 719.0,673.9 768.0,667.7 818.0,660.3 869.0,655.3" fill="none" stroke="#d8d8e2" stroke-width="1.6"/><path d="M195.5,716.0 L224.0,716.0 L266.0,716.0 L303.0,716.0 L321.0,718.4 L348.0,718.3 L397.0,718.1 L450.0,717.9 L550.0,716.0 L600.0,715.1 L620.0,714.7 L650.0,712.8 L669.5,711.6 L700.0,709.7 L719.0,708.5 L768.0,704.8 L818.0,698.6 L869.0,696.1 L869,731 L195.5,731 Z" fill="#fde9d6"/><polyline points="195.5,716.0 224.0,716.0 266.0,716.0 303.0,716.0 321.0,718.4 348.0,718.3 397.0,718.1 450.0,717.9 550.0,716.0 600.0,715.1 620.0,714.7 650.0,712.8 669.5,711.6 700.0,709.7 719.0,708.5 768.0,704.8 818.0,698.6 869.0,696.1" fill="none" stroke="#f2c08a" stroke-width="1.6"/><path d="M195.5,723.4 L224.0,723.5 L266.0,723.7 L303.0,723.9 L321.0,724.0 L348.0,724.1 L397.0,724.4 L450.0,724.6 L550.0,723.9 L600.0,723.5 L620.0,723.4 L650.0,722.2 L669.5,721.5 L700.0,720.3 L719.0,719.6 L768.0,717.2 L818.0,714.7 L869.0,713.0 L869,731 L195.5,731 Z" fill="#fcdcc0"/><polyline points="195.5,723.4 224.0,723.5 266.0,723.7 303.0,723.9 321.0,724.0 348.0,724.1 397.0,724.4 450.0,724.6 550.0,723.9 600.0,723.5 620.0,723.4 650.0,722.2 669.5,721.5 700.0,720.3 719.0,719.6 768.0,717.2 818.0,714.7 869.0,713.0" fill="none" stroke="#ef8a2a" stroke-width="1.6"/><path d="M195.5,728.3 L224.0,728.3 L266.0,728.3 L303.0,728.3 L321.0,728.3 L348.0,728.3 L397.0,728.3 L450.0,728.3 L550.0,728.3 L600.0,728.3 L620.0,728.3 L650.0,727.9 L669.5,727.7 L700.0,727.3 L719.0,727.1 L768.0,726.5 L818.0,725.9 L869.0,725.3 L869,731 L195.5,731 Z" fill="#fde3cc"/><polyline points="195.5,728.3 224.0,728.3 266.0,728.3 303.0,728.3 321.0,728.3 348.0,728.3 397.0,728.3 450.0,728.3 550.0,728.3 600.0,728.3 620.0,728.3 650.0,727.9 669.5,727.7 700.0,727.3 719.0,727.1 768.0,726.5 818.0,725.9 869.0,725.3" fill="none" stroke="#c8631d" stroke-width="1.6"/>
</svg>
<svg class="r" style="left:0;top:0" width="1344" height="768"><circle cx="220" cy="730.8" r="4.3" fill="#fff" stroke="#cfcfcf" stroke-width="1"/><circle cx="220" cy="730.8" r="1.8" fill="none" stroke="#9a9a9a" stroke-width="0.9"/><circle cx="262" cy="730.8" r="4.3" fill="#fff" stroke="#cfcfcf" stroke-width="1"/><circle cx="262" cy="730.8" r="1.8" fill="none" stroke="#9a9a9a" stroke-width="0.9"/><circle cx="301" cy="730.8" r="4.3" fill="#fff" stroke="#cfcfcf" stroke-width="1"/><circle cx="301" cy="730.8" r="1.8" fill="none" stroke="#9a9a9a" stroke-width="0.9"/><circle cx="352" cy="730.8" r="4.3" fill="#fff" stroke="#cfcfcf" stroke-width="1"/><circle cx="352" cy="730.8" r="1.8" fill="none" stroke="#9a9a9a" stroke-width="0.9"/><circle cx="364" cy="730.8" r="4.3" fill="#fff" stroke="#cfcfcf" stroke-width="1"/><circle cx="364" cy="730.8" r="1.8" fill="none" stroke="#9a9a9a" stroke-width="0.9"/><circle cx="491" cy="730.8" r="4.3" fill="#fff" stroke="#cfcfcf" stroke-width="1"/><circle cx="491" cy="730.8" r="1.8" fill="none" stroke="#9a9a9a" stroke-width="0.9"/><circle cx="581" cy="730.8" r="4.3" fill="#fff" stroke="#cfcfcf" stroke-width="1"/><circle cx="581" cy="730.8" r="1.8" fill="none" stroke="#9a9a9a" stroke-width="0.9"/><circle cx="778.5" cy="730.8" r="4.3" fill="#fff" stroke="#cfcfcf" stroke-width="1"/><circle cx="778.5" cy="730.8" r="1.8" fill="none" stroke="#9a9a9a" stroke-width="0.9"/></svg>
<div class="t " style="top:737.90px;font-size:7.8px;line-height:7.8px;color:#a8a8a8;left:151.00px;width:100px;text-align:center;">11 Aug 2023</div>
<div class="t " style="top:737.90px;font-size:7.8px;line-height:7.8px;color:#a8a8a8;left:246.63px;width:100px;text-align:center;">2 Oct 2023</div>
<div class="t " style="top:737.90px;font-size:7.8px;line-height:7.8px;color:#a8a8a8;left:342.26px;width:100px;text-align:center;">23 Nov 2023</div>
<div class="t " style="top:737.90px;font-size:7.8px;line-height:7.8px;color:#a8a8a8;left:437.89px;width:100px;text-align:center;">14 Jan 2024</div>
<div class="t " style="top:737.90px;font-size:7.8px;line-height:7.8px;color:#a8a8a8;left:533.52px;width:100px;text-align:center;">6 Mar 2024</div>
<div class="t " style="top:737.90px;font-size:7.8px;line-height:7.8px;color:#a8a8a8;left:629.15px;width:100px;text-align:center;">27 Apr 2024</div>
<div class="t " style="top:737.90px;font-size:7.8px;line-height:7.8px;color:#a8a8a8;left:724.78px;width:100px;text-align:center;">18 Jun 2024</div>
<div class="t " style="top:737.90px;font-size:7.8px;line-height:7.8px;color:#a8a8a8;left:820.41px;width:100px;text-align:center;">8 Aug 2024</div>
<div class="t " style="top:585.90px;font-size:7.8px;line-height:7.8px;color:#a8a8a8;right:435.50px;text-align:right;">6K</div>
<div class="t " style="top:623.90px;font-size:7.8px;line-height:7.8px;color:#a8a8a8;right:435.50px;text-align:right;">4.5K</div>
<div class="t " style="top:661.40px;font-size:7.8px;line-height:7.8px;color:#a8a8a8;right:435.50px;text-align:right;">3K</div>
<div class="t " style="top:698.90px;font-size:7.8px;line-height:7.8px;color:#a8a8a8;right:435.50px;text-align:right;">1.5K</div>
<div class="t " style="top:736.40px;font-size:7.8px;line-height:7.8px;color:#a8a8a8;right:435.50px;text-align:right;">0</div>
<div class="r" style="left:931px;top:188.5px;width:387px;height:227px;background:#fff;border-radius:4px;box-shadow:0 1px 2px rgba(0,0,0,.08);"></div>
<div class="t " style="top:202.47px;font-size:10.2px;line-height:10.2px;color:#1a1a1a;font-weight:700;left:944.00px;">Traffic by location</div>
<div class="r" style="left:1196.6px;top:197.3px;width:108.3px;height:18.5px;background:#fff;border:1px solid #dcdcdc;border-radius:3px;"></div>
<div class="r" style="left:1196.6px;top:197.3px;width:66.7px;height:18.5px;background:#fddcb5;border-radius:3px 0 0 3px;"></div>
<div class="t" style="left:1204.9px;top:202.01px;font-size:10.27px;line-height:10.27px;color:#222">Organic <span style="color:#999">91</span></div>
<div class="t" style="left:1270px;top:202.01px;font-size:10.27px;line-height:10.27px;color:#222">Paid <span style="color:#999">4</span></div>
<div class="r" style="left:944px;top:224px;width:362px;height:2px;background:#f0f0f0;"></div>
<div class="t " style="top:233.04px;font-size:9.4px;line-height:9.4px;color:#1a1a1a;font-weight:700;left:944.00px;">Location</div>
<div class="t " style="top:233.04px;font-size:9.4px;line-height:9.4px;color:#1a1a1a;font-weight:700;left:1152.80px;">Traffic</div>
<div class="t " style="top:233.04px;font-size:9.4px;line-height:9.4px;color:#1a1a1a;font-weight:700;left:1217.60px;">Share</div>
<div class="t " style="top:233.04px;font-size:9.4px;line-height:9.4px;color:#1a1a1a;font-weight:700;left:1255.70px;">Keywords</div>
<div class="r" style="left:944px;top:255.5px;width:273.31px;height:17.0px;background:#fdecdf;"></div>
<div class="r" style="left:1217.31px;top:274px;width:88.69px;height:2px;background:#f4f4f4;"></div>
<div class="t " style="top:259.81px;font-size:10.27px;line-height:10.27px;color:#222;left:966.00px;">Ecuador</div>
<div class="t " style="top:259.81px;font-size:10.27px;line-height:10.27px;color:#222;right:169.50px;text-align:right;">7.1K</div>
<div class="t " style="top:261.39px;font-size:8.4px;line-height:8.4px;color:#2f9e62;left:1180.10px;">+3.9K</div>
<div class="t " style="top:259.81px;font-size:10.27px;line-height:10.27px;color:#222;right:100.70px;text-align:right;">75.5%</div>
<div class="t " style="top:259.81px;font-size:10.27px;line-height:10.27px;color:#2a4a96;right:66.20px;text-align:right;">2.8K</div>
<div class="t " style="top:261.39px;font-size:8.4px;line-height:8.4px;color:#2f9e62;left:1283.40px;">+1.4K</div>
<div class="flag fl-ec" style="left:948.4px;top:260.9px"></div>
<div class="r" style="left:944px;top:272.5px;width:51.766000000000005px;height:28.5px;background:#fbf1e7;"></div>
<div class="r" style="left:944px;top:300.5px;width:362px;height:2px;background:#f4f4f4;"></div>
<div class="t " style="top:285.51px;font-size:10.27px;line-height:10.27px;color:#222;left:966.00px;">United States</div>
<div class="t " style="top:285.51px;font-size:10.27px;line-height:10.27px;color:#222;right:169.50px;text-align:right;">1.3K</div>
<div class="t " style="top:287.09px;font-size:8.4px;line-height:8.4px;color:#2f9e62;left:1180.10px;">+304</div>
<div class="t " style="top:285.51px;font-size:10.27px;line-height:10.27px;color:#222;right:100.70px;text-align:right;">14.3%</div>
<div class="t " style="top:285.51px;font-size:10.27px;line-height:10.27px;color:#2a4a96;right:66.20px;text-align:right;">1.7K</div>
<div class="t " style="top:287.09px;font-size:8.4px;line-height:8.4px;color:#2f9e62;left:1283.40px;">+511</div>
<div class="flag fl-us" style="left:948.4px;top:286.6px"></div>
<div class="r" style="left:944px;top:301.5px;width:7.602px;height:25.0px;background:#fbf1e7;"></div>
<div class="r" style="left:944px;top:327.5px;width:362px;height:2px;background:#f4f4f4;"></div>
<div class="t " style="top:311.21px;font-size:10.27px;line-height:10.27px;color:#222;left:966.00px;">Colombia</div>
<div class="t " style="top:311.21px;font-size:10.27px;line-height:10.27px;color:#222;right:169.50px;text-align:right;">195</div>
<div class="t " style="top:312.79px;font-size:8.4px;line-height:8.4px;color:#2f9e62;left:1180.10px;">+142</div>
<div class="t " style="top:311.21px;font-size:10.27px;line-height:10.27px;color:#222;right:100.70px;text-align:right;">2.1%</div>
<div class="t " style="top:311.21px;font-size:10.27px;line-height:10.27px;color:#2a4a96;right:66.20px;text-align:right;">328</div>
<div class="t " style="top:312.79px;font-size:8.4px;line-height:8.4px;color:#2f9e62;left:1283.40px;">+107</div>
<div class="flag fl-co" style="left:948.4px;top:312.3px"></div>
<div class="r" style="left:944px;top:327px;width:5.43px;height:25.5px;background:#fbf1e7;"></div>
<div class="r" style="left:944px;top:353px;width:362px;height:2px;background:#f4f4f4;"></div>
<div class="t " style="top:336.91px;font-size:10.27px;line-height:10.27px;color:#222;left:966.00px;">Mexico</div>
<div class="t " style="top:336.91px;font-size:10.27px;line-height:10.27px;color:#222;right:169.50px;text-align:right;">139</div>
<div class="t " style="top:338.49px;font-size:8.4px;line-height:8.4px;color:#2f9e62;left:1180.10px;">+74</div>
<div class="t " style="top:336.91px;font-size:10.27px;line-height:10.27px;color:#222;right:100.70px;text-align:right;">1.5%</div>
<div class="t " style="top:336.91px;font-size:10.27px;line-height:10.27px;color:#2a4a96;right:66.20px;text-align:right;">270</div>
<div class="t " style="top:338.49px;font-size:8.4px;line-height:8.4px;color:#2f9e62;left:1283.40px;">+98</div>
<div class="flag fl-mx" style="left:948.4px;top:338.0px"></div>
<div class="r" style="left:944px;top:353px;width:4.343999999999999px;height:25px;background:#fbf1e7;"></div>
<div class="t " style="top:362.61px;font-size:10.27px;line-height:10.27px;color:#222;left:966.00px;">Spain</div>
<div class="t " style="top:362.61px;font-size:10.27px;line-height:10.27px;color:#222;right:169.50px;text-align:right;">117</div>
<div class="t " style="top:364.19px;font-size:8.4px;line-height:8.4px;color:#2f9e62;left:1180.10px;">+61</div>
<div class="t " style="top:362.61px;font-size:10.27px;line-height:10.27px;color:#222;right:100.70px;text-align:right;">1.2%</div>
<div class="t " style="top:362.61px;font-size:10.27px;line-height:10.27px;color:#2a4a96;right:66.20px;text-align:right;">344</div>
<div class="t " style="top:364.19px;font-size:8.4px;line-height:8.4px;color:#2f9e62;left:1283.40px;">+139</div>
<div class="flag fl-es" style="left:948.4px;top:363.7px"></div>
<svg class="r" style="left:952px;top:393px" width="8" height="11" viewBox="0 0 8 11"><path d="M6 1.5L2 5.5l4 4" fill="none" stroke="#bbb" stroke-width="1.4"/></svg>
<svg class="r" style="left:979px;top:393px" width="8" height="11" viewBox="0 0 8 11"><path d="M2 1.5l4 4-4 4" fill="none" stroke="#222" stroke-width="1.5"/></svg>
<div class="t " style="top:393.71px;font-size:10.27px;line-height:10.27px;color:#222;left:1011.40px;">Compare top 5 on chart</div>
<div class="r" style="left:931px;top:428px;width:387px;height:360px;background:#fff;border-radius:4px;box-shadow:0 1px 2px rgba(0,0,0,.08);"></div>
<div class="t " style="top:442.17px;font-size:10.2px;line-height:10.2px;color:#1a1a1a;font-weight:700;left:944.20px;">Referring domains</div>
<div class="r" style="left:944px;top:464.3px;width:301.546px;height:25.5px;background:#e3eefb;"></div>
<div class="t " style="top:472.81px;font-size:10.27px;line-height:10.27px;color:#222;left:949.60px;">Followed<span class="sup">i</span></div>
<div class="t " style="top:472.81px;font-size:10.27px;line-height:10.27px;color:#2a4a96;right:71.00px;text-align:right;">515</div>
<div class="t " style="top:473.54px;font-size:9.4px;line-height:9.4px;color:#8e8e8e;right:37.50px;text-align:right;">83.3%</div>
<div class="r" style="left:944px;top:490.0px;width:60.454px;height:25.5px;background:#e3eefb;"></div>
<div class="t " style="top:498.51px;font-size:10.27px;line-height:10.27px;color:#222;left:949.60px;">Not followed<span class="sup">i</span></div>
<div class="t " style="top:498.51px;font-size:10.27px;line-height:10.27px;color:#222;right:71.00px;text-align:right;">103</div>
<div class="t " style="top:499.24px;font-size:9.4px;line-height:9.4px;color:#8e8e8e;right:37.50px;text-align:right;">16.7%</div>
<div class="r" style="left:944px;top:527px;width:362px;height:2px;background:#f2f2f2;"></div>
<div class="t " style="top:542.87px;font-size:10.2px;line-height:10.2px;color:#1a1a1a;font-weight:700;left:944.20px;">Backlinks</div>
<div class="r" style="left:944px;top:564.3px;width:261.364px;height:25.5px;background:#e3eefb;"></div>
<div class="t " style="top:572.81px;font-size:10.27px;line-height:10.27px;color:#222;left:949.60px;">Followed<span class="sup">i</span></div>
<div class="t " style="top:572.81px;font-size:10.27px;line-height:10.27px;color:#2a4a96;right:71.00px;text-align:right;">2,917</div>
<div class="t " style="top:573.54px;font-size:9.4px;line-height:9.4px;color:#8e8e8e;right:37.50px;text-align:right;">72.2%</div>
<div class="r" style="left:944px;top:590.0px;width:100.63600000000001px;height:25.5px;background:#e3eefb;"></div>
<div class="t " style="top:598.51px;font-size:10.27px;line-height:10.27px;color:#222;left:949.60px;">Not followed<span class="sup">i</span></div>
<div class="t " style="top:598.51px;font-size:10.27px;line-height:10.27px;color:#222;right:71.00px;text-align:right;">1,123</div>
<div class="t " style="top:599.24px;font-size:9.4px;line-height:9.4px;color:#8e8e8e;right:37.50px;text-align:right;">27.8%</div>
<div class="r" style="left:944px;top:615.5999999999999px;width:100.63600000000001px;height:25.5px;background:#e3eefb;"></div>
<div class="r" style="left:953.2px;top:628.1999999999999px;width:3px;height:3px;background:#aaa;border-radius:50%;"></div>
<div class="t " style="top:624.11px;font-size:10.27px;line-height:10.27px;color:#222;left:966.00px;">Nofollow<span class="sup">i</span></div>
<div class="t " style="top:624.11px;font-size:10.27px;line-height:10.27px;color:#2a4a96;right:71.00px;text-align:right;">1,122</div>
<div class="t " style="top:624.84px;font-size:9.4px;line-height:9.4px;color:#8e8e8e;right:37.50px;text-align:right;">27.8%</div>
<div class="r" style="left:944px;top:641.0999999999999px;width:0.724px;height:25.5px;background:#e3eefb;"></div>
<div class="r" style="left:953.2px;top:653.6999999999999px;width:3px;height:3px;background:#aaa;border-radius:50%;"></div>
<div class="t " style="top:649.61px;font-size:10.27px;line-height:10.27px;color:#222;left:966.00px;">UGC<span class="sup">i</span></div>
<div class="t " style="top:649.61px;font-size:10.27px;line-height:10.27px;color:#2a4a96;right:71.00px;text-align:right;">8</div>
<div class="t " style="top:650.34px;font-size:9.4px;line-height:9.4px;color:#8e8e8e;right:37.50px;text-align:right;">0.2%</div>
<div class="r" style="left:944px;top:666.8px;width:0.2896px;height:25.5px;background:#e3eefb;"></div>
<div class="r" style="left:953.2px;top:679.4px;width:3px;height:3px;background:#aaa;border-radius:50%;"></div>
<div class="t " style="top:675.31px;font-size:10.27px;line-height:10.27px;color:#222;left:966.00px;">Sponsored<span class="sup">i</span></div>
<div class="t " style="top:675.31px;font-size:10.27px;line-height:10.27px;color:#2a4a96;right:71.00px;text-align:right;">1</div>
<div class="t " style="top:676.04px;font-size:9.4px;line-height:9.4px;color:#8e8e8e;right:37.50px;text-align:right;">&lt;0.1%</div>
<div class="r" style="left:945px;top:705.5px;width:37.5px;height:16px;background:#f5f5f5;border-radius:3px;"></div>
<div class="t " style="top:707.54px;font-size:9.4px;line-height:9.4px;color:#1a1a1a;font-weight:700;left:949.40px;">By UR</div>
<div class="t " style="top:707.54px;font-size:9.4px;line-height:9.4px;color:#1a1a1a;font-weight:700;left:989.50px;">By DR</div>
<div class="r" style="left:944px;top:726px;width:362px;height:1px;background:#f3f3f3;"></div>
<div class="r" style="left:944px;top:728.3px;width:362.0px;height:25.5px;background:#e3eefb;"></div>
<div class="t " style="top:736.81px;font-size:10.27px;line-height:10.27px;color:#222;left:949.60px;">10–19</div>
<div class="t " style="top:736.81px;font-size:10.27px;line-height:10.27px;color:#222;right:71.00px;text-align:right;">10</div>
<div class="t " style="top:737.54px;font-size:9.4px;line-height:9.4px;color:#8e8e8e;right:37.50px;text-align:right;">0.2%</div>
<div class="r" style="left:944px;top:754.0px;width:108.6px;height:25.5px;background:#e3eefb;"></div>
<div class="t " style="top:762.51px;font-size:10.27px;line-height:10.27px;color:#222;left:949.60px;">20–29</div>
<div class="t " style="top:762.51px;font-size:10.27px;line-height:10.27px;color:#222;right:71.00px;text-align:right;">3</div>
<div class="t " style="top:763.24px;font-size:9.4px;line-height:9.4px;color:#8e8e8e;right:37.50px;text-align:right;">&lt;0.1%</div>
<div class="r" style="left:1312.3px;top:-10px;width:5.7px;height:31.5px;background:#f9f9f9;"></div>
<div class="r" style="left:1312.3px;top:34.5px;width:5.7px;height:103px;background:#f9f9f9;"></div>
<div class="r" style="left:1312.3px;top:189px;width:5.7px;height:226px;background:#f9f9f9;"></div>
<div class="r" style="left:1312.3px;top:428.5px;width:5.7px;height:360px;background:#f9f9f9;"></div>
<div class="help">?</div>
</body></html>
